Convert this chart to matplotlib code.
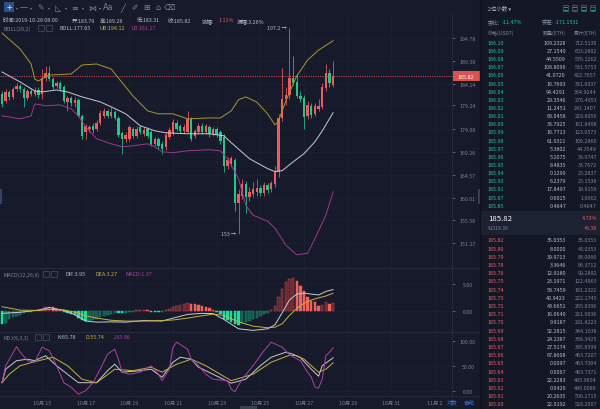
import numpy as np
import pandas as pd
import matplotlib
matplotlib.use("Agg")
import matplotlib.pyplot as plt
import matplotlib.dates as mdates
from matplotlib.patches import Rectangle
from matplotlib.ticker import FixedLocator, FixedFormatter, NullLocator

plt.rcParams['font.family'] = ['Noto Sans CJK SC', 'DejaVu Sans']
plt.rcParams['axes.unicode_minus'] = False

# ---------------- data (ETH/USDT, 4h candles) ----------------
first_candle = "2019-10-13 04:00"
opens = [181.8, 180.3, 182.3, 181.1, 182.9, 183.6, 182.9, 180.9, 182.5, 181.8,
         182.7, 181.8, 185.4, 186.6, 185.2, 183.6, 184.3, 183.4, 180.0, 180.9,
         179.8, 180.5, 177.0, 173.5, 174.2, 174.8, 174.2, 175.4, 177.0, 178.0,
         177.0, 177.8, 176.5, 173.3, 172.0, 172.0, 174.2, 172.7, 174.6, 173.1,
         174.2, 173.5, 171.0, 172.0, 171.0, 170.3, 172.5, 173.3, 175.4, 174.8,
         173.7, 173.5, 176.3, 172.7, 173.5, 174.8, 173.5, 174.6, 173.1, 174.2,
         173.5, 172.5, 166.4, 166.8, 167.5, 158.9, 160.4, 162.8, 160.2, 160.8,
         161.2, 162.0, 161.0, 162.6, 161.8, 162.8, 165.2, 176.5, 180.7, 181.6,
         185.4, 184.5, 181.4, 180.9, 177.0, 179.2, 177.4, 178.5, 178.9, 183.1,
         186.6, 183.79]
highs = [182.5, 182.9, 182.7, 183.4, 184.3, 184.1, 183.4, 182.9, 183.1, 183.4,
         183.4, 187.5, 188.2, 188.2, 185.6, 184.7, 184.7, 183.8, 181.4, 181.4,
         181.1, 180.9, 177.4, 175.2, 175.0, 175.4, 176.1, 178.3, 178.7, 178.5,
         178.9, 178.3, 177.0, 173.7, 173.5, 175.0, 174.6, 174.8, 175.0, 174.6,
         174.6, 173.9, 172.5, 172.5, 171.6, 173.5, 174.6, 176.3, 176.1, 175.2,
         175.2, 178.1, 176.7, 174.2, 175.4, 175.4, 175.2, 175.0, 174.6, 174.6,
         173.9, 173.1, 168.3, 168.5, 167.9, 161.8, 163.8, 163.4, 162.2, 163.2,
         163.8, 162.6, 163.2, 163.0, 163.4, 166.4, 177.4, 187.7, 183.4, 197.2,
         190.5, 186.3, 182.5, 181.6, 180.3, 179.8, 179.8, 180.7, 184.3, 188.6,
         187.5, 189.28]
lows = [178.9, 179.8, 180.5, 180.7, 182.5, 182.2, 178.9, 180.5, 181.4, 181.4,
        180.9, 180.7, 184.7, 184.7, 182.9, 183.1, 182.5, 179.8, 178.1, 179.2,
        178.9, 176.7, 172.0, 172.0, 173.5, 173.3, 173.7, 175.0, 176.5, 176.5,
        176.5, 176.1, 172.5, 168.9, 171.4, 171.6, 172.2, 172.2, 173.1, 172.7,
        172.2, 170.6, 170.6, 169.9, 168.9, 169.7, 172.0, 172.9, 173.7, 173.3,
        173.3, 173.3, 171.6, 172.2, 173.1, 173.1, 173.1, 172.5, 172.7, 172.5,
        171.0, 165.2, 165.8, 166.2, 157.3, 153.0, 159.8, 156.9, 159.4, 160.2,
        160.4, 160.4, 160.4, 161.0, 161.2, 162.2, 164.2, 175.9, 179.4, 180.7,
        183.8, 180.9, 180.0, 174.2, 176.3, 176.5, 177.0, 178.0, 178.5, 182.5,
        183.4, 183.31]
closes = [179.6, 182.3, 181.1, 182.9, 183.6, 182.9, 180.9, 182.5, 181.8, 182.7,
          181.6, 185.4, 186.6, 185.2, 183.4, 184.3, 182.9, 180.3, 180.9, 179.8,
          180.5, 177.0, 172.7, 174.8, 174.6, 173.9, 175.4, 177.6, 178.0, 177.0,
          177.8, 176.5, 172.9, 172.0, 172.9, 174.6, 172.7, 174.2, 173.5, 173.9,
          172.7, 171.0, 172.0, 170.6, 169.9, 172.9, 173.9, 175.7, 174.2, 173.7,
          174.6, 176.3, 172.0, 173.7, 174.8, 173.5, 174.8, 173.1, 174.2, 172.9,
          171.6, 166.4, 167.5, 167.9, 158.9, 160.8, 162.8, 160.2, 161.2, 161.8,
          162.0, 161.0, 162.6, 161.6, 163.0, 165.2, 176.5, 180.7, 181.6, 185.4,
          184.3, 181.4, 180.7, 176.7, 179.4, 177.2, 179.2, 179.2, 183.4, 186.6,
          184.3, 185.82]

# BOLL(20,2), read at some candles
ub_idx = [0, 5, 8, 9, 10, 13, 19, 22, 26, 30, 32, 36, 40, 43, 47, 51, 57, 60,
          63, 65, 67, 70, 73, 75, 76, 78, 81, 84, 87, 91]
ub_val = [195.96, 192.15, 188.64, 185.18, 184.73, 186.1, 186.33, 188.4, 188.64,
          187.48, 185.4, 181.36, 178.05, 177.4, 177.4, 176.31, 176.5, 176.5,
          178.05, 180.5, 181.14, 180.0, 177.4, 175.0, 175.87, 180.25, 185.87,
          189.57, 191.9, 194.12]
mid_idx = [0, 5, 9, 11, 15, 18, 22, 27, 30, 34, 38, 42, 45, 51, 57, 61, 63, 68,
           73, 75, 77, 80, 83, 86, 88, 91]
mid_val = [186.79, 184.5, 182.47, 182.25, 182.7, 182.25, 181.14, 180.03, 178.93,
           177.4, 174.8, 173.73, 173.3, 173.09, 173.09, 172.66, 171.2, 167.86,
           165.81, 165.21, 165.4, 167.2, 168.9, 171.4, 173.7, 177.65]
lb_idx = [0, 5, 8, 9, 12, 16, 19, 21, 23, 26, 30, 33, 36, 40, 42, 44, 47, 51, 57,
          60, 62, 65, 67, 69, 73, 75, 78, 81, 84, 86, 89, 91]
lb_val = [176.96, 176.31, 176.96, 179.59, 179.15, 179.37, 178.49, 176.96, 174.58,
          172.03, 170.97, 170.34, 170.55, 170.97, 170.34, 169.3, 169.1, 169.51,
          169.72, 169.51, 167.86, 163.8, 158.47, 156.55, 155.41, 154.09, 150.9,
          149.1, 149.4, 152.1, 156.55, 161.17]

# MACD(12,26,9)
macd_hist = [-2.5, -2.3, -1.5, -1.2, -1.0, -0.8, -0.4, -0.3, -0.2, -0.1,
             0.1, 0.3, 0.6, 0.7, 0.6, 0.4, 0.2, -0.2, -0.4, -0.6,
             -0.9, -1.3, -1.8, -2.0, -1.9, -1.7, -1.5, -1.2, -1.0, -0.8,
             -0.6, -0.5, -0.5, -0.5, -0.4, -0.3, -0.2, 0.1, 0.2, 0.2,
             0.1, -0.2, -0.3, -0.3, -0.2, 0.2, 0.4, 0.7, 0.9, 1.1,
             1.3, 1.4, 1.3, 1.2, 1.1, 0.9, 0.7, 0.5, 0.2, -0.2,
             -0.6, -1.5, -1.8, -2.1, -2.5, -2.6, -2.4, -2.2, -1.9, -1.6,
             -1.3, -1.0, -0.7, -0.4, 0.2, 0.9, 2.5, 4.1, 5.4, 5.9,
             6.1, 5.5, 4.7, 3.6, 2.5, 1.9, 1.6, 0.95, 1.0, 1.7,
             1.3, 1.37]
macd_idx = [0, 5, 10, 13, 17, 20, 23, 26, 30, 34, 39, 44, 47, 51, 55, 58, 61,
            65, 69, 73, 75, 77, 79, 81, 83, 85, 87, 89, 91]
dif_val = [-0.5, -0.3, 0.1, 0.6, 0.05, -0.75, -1.95, -2.15, -2.1, -2.15, -1.85,
           -1.95, -1.4, -0.7, -0.5, -0.55, -1.65, -3.4, -3.7, -3.4, -2.65, -0.4,
           2.0, 3.1, 3.3, 3.1, 2.95, 3.6, 3.95]
dea_val = [0.75, 0.1, 0.05, 0.25, 0.15, -0.3, -0.95, -1.4, -1.8, -1.95, -1.95,
           -1.85, -1.75, -1.4, -0.95, -0.65, -0.9, -2.1, -2.9, -3.2, -3.1,
           -2.45, -0.9, 0.4, 1.4, 2.0, 2.4, 2.75, 3.27]

# KDJ(9,3,3)
k_idx = [0, 1, 4, 7, 9, 12, 15, 18, 21, 26, 29, 31, 33, 38, 41, 44, 47, 49, 52,
         54, 58, 63, 67, 71, 74, 78, 80, 82, 85, 87, 88, 91]
k_val = [16, 43, 60, 63, 60, 70, 50, 33, 16, 16, 40, 53, 37, 40, 43, 27, 57, 67,
         63, 47, 33, 15, 23, 50, 67, 77, 73, 66, 43, 29, 50, 65.78]
d_idx = [0, 2, 5, 9, 14, 18, 22, 26, 31, 36, 41, 44, 48, 52, 56, 63, 69, 74, 79,
         81, 83, 85, 87, 89, 91]
d_val = [16, 33, 50, 58, 67, 50, 23, 16, 43, 40, 47, 37, 53, 63, 50, 20, 33, 57,
         71, 70, 63, 50, 37, 43, 55.74]
j_idx = [0, 1, 4, 5, 7, 9, 11, 13, 15, 17, 19, 21, 23, 25, 27, 29, 31, 32, 33,
         35, 38, 41, 43, 44, 46, 47, 48, 51, 52, 54, 56, 58, 62, 63, 64, 66, 69,
         72, 74, 77, 79, 82, 84, 85, 86, 87, 88, 89, 90, 91]
j_val = [16, 50, 88, 77, 60, 57, 87, 80, 50, 16, 7, -7, 0, 16, 43, 73, 83, 63, 37,
         33, 37, 50, 33, 20, 43, 87, 97, 83, 63, 50, 33, 23, 20, 3, -2, 23, 50,
         80, 97, 87, 72, 60, 37, 27, 7, 5, 23, 70, 77, 85.86]

price_ticks = [194.78, 189.38, 184.14, 179.24, 174.08, 169.26, 164.57, 160.01,
               155.58, 151.27]
date_ticks = ["2019-10-15", "2019-10-17", "2019-10-19", "2019-10-21", "2019-10-23",
              "2019-10-25", "2019-10-27", "2019-10-29", "2019-10-31", "2019-11-02"]
date_labels = ["10月 15", "10月 17", "10月 19", "10月 21", "10月 23", "10月 25",
               "10月 27", "10月 29", "10月 31", "11月 2"]

# order book
ask_price = ["186.10", "186.09", "186.08", "186.07", "186.06", "186.05", "186.04",
             "186.03", "186.02", "186.01", "186.00", "185.99", "185.98", "185.97",
             "185.96", "185.95", "185.94", "185.93", "185.91", "185.87", "185.85"]
ask_amount = ["109.2328", "27.1540", "44.5509", "108.8096", "41.0720", "16.7693",
              "94.4291", "29.3546", "11.2451", "68.0458", "38.7925", "16.7713",
              "61.9311", "5.3802", "5.2075", "8.4835", "0.1299", "6.2379",
              "17.8497", "0.6015", "0.4647"]
ask_total = ["712.5130", "603.2802", "576.1262", "531.5753", "422.7657", "381.6937",
             "364.9244", "270.4953", "241.1407", "229.8956", "161.8498", "123.0573",
             "106.2860", "44.3549", "38.9747", "33.7672", "25.2837", "25.1538",
             "18.9159", "1.0662", "0.4647"]
bid_price = ["185.82", "185.80", "185.79", "185.78", "185.76", "185.75", "185.74",
             "185.73", "185.72", "185.71", "185.70", "185.69", "185.68", "185.67",
             "185.66", "185.65", "185.64", "185.63", "185.62", "185.61", "185.60"]
bid_amount = ["35.0353", "8.0000", "39.9713", "3.3646", "12.9180", "23.1971",
              "58.7459", "40.9423", "43.6651", "16.0640", "9.9187", "52.2815",
              "24.2387", "27.5174", "67.8608", "0.0097", "0.0067", "22.2283",
              "0.0426", "20.2635", "22.0192"]
bid_total = ["35.0353", "43.0353", "83.0066", "86.3712", "99.2892", "122.4863",
             "181.2322", "222.1745", "265.8396", "281.9036", "291.8223", "344.1038",
             "368.3425", "395.8599", "463.7207", "463.7304", "463.7371", "485.9654",
             "486.0080", "506.2715", "528.2907"]

# ---------------- style ----------------
BG = '#161a2a'
GRID = '#1d2232'
LINE = '#272c3e'
TXT = '#7d8396'
LIGHT = '#b9bdca'
RED = '#ee5c5f'
GREEN = '#1ec98e'
UBC = '#a8972a'
MIDC = '#c9cbd2'
LBC = '#9b3a8e'
YEL = '#c4b43a'
MAG = '#b23fa8'
BLUE = '#3d7ee0'

W, H = 600, 410
fig = plt.figure(figsize=(6, 4.1), dpi=100, facecolor=BG)

def px_axes(x0, y0, x1, y1):
    return fig.add_axes([x0 / W, 1 - y1 / H, (x1 - x0) / W, (y1 - y0) / H])

times = pd.date_range(first_candle, periods=len(opens), freq='4h')
tx = mdates.date2num(times)
xlim = (mdates.date2num(pd.Timestamp("2019-10-13 01:50")),
        mdates.date2num(pd.Timestamp("2019-11-02 18:40")))
dticks = mdates.date2num(pd.to_datetime(date_ticks))

ax = px_axes(0, 14, 452, 269)
ax_m = px_axes(0, 269, 452, 333)
ax_k = px_axes(0, 333, 452, 397)

for a in (ax, ax_m, ax_k):
    a.set_facecolor(BG)
    for s in a.spines.values():
        s.set_visible(False)
    a.set_xlim(*xlim)
    a.xaxis.set_major_locator(FixedLocator(dticks))
    a.grid(True, color=GRID, lw=0.6)
    a.yaxis.tick_right()
    a.tick_params(axis='y', colors=TXT, labelsize=3.8, length=2.5, width=0.5)
    a.tick_params(axis='x', length=0, labelbottom=False)
    a.set_axisbelow(True)

# ---- candles ----
O = np.array(opens); Hh = np.array(highs); L = np.array(lows); C = np.array(closes)
cols = np.where(C >= O, RED, GREEN)
ax.vlines(tx, L, Hh, colors=cols, lw=0.55, zorder=3)
lo = np.minimum(O, C)
ht = np.maximum(np.abs(C - O), 0.12)
ax.bar(tx, ht, bottom=lo, width=0.11, color=cols, linewidth=0, zorder=4)

ax.plot(tx[ub_idx], ub_val, color=UBC, lw=0.7, zorder=5)
ax.plot(tx[mid_idx], mid_val, color=MIDC, lw=0.7, zorder=5)
ax.plot(tx[lb_idx], lb_val, color=LBC, lw=0.7, zorder=5)

ax.set_yscale('log')
ax.set_ylim(146.70, 200.87)
ax.yaxis.set_major_locator(FixedLocator(price_ticks))
ax.yaxis.set_minor_locator(NullLocator())
ax.yaxis.set_major_formatter(FixedFormatter(['%.2f' % v for v in price_ticks]))

last = closes[-1]
ax.axhline(last, color='#c0474b', lw=0.7, ls=(0, (1.2, 1.2)), zorder=2)

i_hi = int(np.argmax(highs)); i_lo = int(np.argmin(lows))
ax.annotate('%.1f →' % highs[i_hi], xy=(tx[i_hi], highs[i_hi]), xytext=(-2, 0),
            textcoords='offset points', ha='right', va='center', fontsize=3.8, color=LIGHT)
ax.annotate('%g →' % lows[i_lo], xy=(tx[i_lo], lows[i_lo]), xytext=(-2, 0),
            textcoords='offset points', ha='right', va='center', fontsize=3.8, color=LIGHT)

# ---- MACD ----
hist = np.array(macd_hist)
prev = np.concatenate([[0.0], hist[:-1]])
fc, ec = [], []
for v, p in zip(hist, prev):
    if v >= 0:
        if v >= p:
            fc.append('#5a2530'); ec.append('#c4484d')
        else:
            fc.append('#f0605d'); ec.append('#f0605d')
    else:
        if v <= p:
            fc.append('#20dba0'); ec.append('#20dba0')
        else:
            fc.append('#17594b'); ec.append('#1f8a6c')
ax_m.bar(tx, hist, width=0.11, color=fc, edgecolor=ec, linewidth=0.35, zorder=3)
ax_m.plot(tx[macd_idx], dif_val, color=MIDC, lw=0.7, zorder=4)
ax_m.plot(tx[macd_idx], dea_val, color=YEL, lw=0.7, zorder=4)
ax_m.set_ylim(-4.0, 8.0)
ax_m.set_yticks([5, 0])
ax_m.set_yticklabels(['5.00', '0.00'])

# ---- KDJ ----
ax_k.plot(tx[k_idx], k_val, color=MIDC, lw=0.7)
ax_k.plot(tx[d_idx], d_val, color=YEL, lw=0.7)
ax_k.plot(tx[j_idx], j_val, color=MAG, lw=0.7)
ax_k.set_ylim(-10.6, 117.4)
ax_k.set_yticks([100, 50, 0])
ax_k.set_yticklabels(['100.00', '50.00', '0.00'])
ax_k.tick_params(axis='x', labelbottom=True, colors=TXT, labelsize=3.8, pad=3)
ax_k.set_xticklabels(date_labels)

for a in (ax, ax_m, ax_k):
    for lab in a.get_yticklabels():
        lab.set_horizontalalignment('center')
    a.tick_params(axis='y', pad=9)

# ---------------- overlay (texts, separators, order book) ----------------
ov = fig.add_axes([0, 0, 1, 1], zorder=20)
ov.set_xlim(0, W); ov.set_ylim(H, 0); ov.axis('off'); ov.patch.set_alpha(0)

for y in (269, 333, 397):
    ov.plot([0, 480], [y, y], color=LINE, lw=0.7)
ov.plot([452, 452], [14, 397], color=LINE, lw=0.7)
ov.add_patch(Rectangle((480, 0), 120, H, fc='#141826', ec='none'))
ov.plot([480, 480], [0, H], color='#0e111c', lw=1.0)
ov.add_patch(Rectangle((0, 190), 1.5, 15, fc='#34426e', ec='none'))
ov.add_patch(Rectangle((478, 190), 2, 15, fc='#3c4257', ec='none'))
ov.add_patch(Rectangle((240, 407), 17, 3, fc='#3a4055', ec='none'))

# last price tag on the price axis
fig.canvas.draw()
y_last = H - ax.transData.transform((tx[-1], last))[1]
ov.add_patch(Rectangle((452.5, y_last - 4.8), 27, 9.6, fc='#d9534f', ec='none'))
ov.text(466, y_last, '%.2f' % last, color='white', fontsize=3.8, ha='center', va='center')

fs = 3.9
# toolbar
ov.add_patch(Rectangle((4, 3), 10, 10, fc='#2b4f86', ec='none'))
ov.text(9, 8, '+', color='#d0d8ea', fontsize=7, ha='center', va='center')
tools = [(17, '▾'), (24, '—'), (31, '▾'), (41, '✎'), (49, '▾'), (58, '◺'), (66, '▾'),
         (75, '≡'), (83, '▾'), (92, '⋈'), (100, '▾'), (108, 'Aa'), (123, '╱'),
         (135, '✐'), (147, '⊞'), (158, '⌂'), (170, '⌫')]
for x, s in tools:
    ov.text(x, 8, s, color=TXT, fontsize=5.8 if s != '▾' else 3, ha='center',
            va='center', family=['DejaVu Sans'])

# header info
info = [(3, '时间:2019-10-28 08:00', LIGHT), (72, '开:183.79', LIGHT),
        (100, '高:189.28', LIGHT), (137, '低:183.31', LIGHT), (168, '收:185.82', LIGHT),
        (202, '涨幅:', LIGHT), (219, '1.11%', RED), (237, '振幅:3.26%', LIGHT)]
for x, s, c in info:
    ov.text(x, 21, s, color=c, fontsize=fs, va='center')

def label_row(y, name, items):
    ov.text(3, y, name, color=TXT, fontsize=fs, va='center')
    for bx in items[0]:
        ov.add_patch(Rectangle((bx, y - 2.8), 5.6, 5.6, fc='none', ec='#4a5068', lw=0.5))
    for x, s, c in items[1]:
        ov.text(x, y, s, color=c, fontsize=fs, va='center')

label_row(29, 'BOLL(20,2)', ([38, 46], [(59, 'BOLL:177.65', LIGHT),
                                      (99, 'UB:194.12', YEL), (132, 'LB:161.17', MAG)]))
label_row(275, 'MACD(12,26,9)', ([43, 51], [(65, 'DIF:3.95', LIGHT),
                                         (95, 'DEA:3.27', YEL), (125, 'MACD:1.37', MAG)]))
label_row(338, 'KDJ(9,3,3)', ([35, 43], [(57, 'K:65.78', LIGHT),
                                      (85, 'D:55.74', YEL), (113, 'J:85.86', MAG)]))

ov.text(447, 403, '对数', color=BLUE, fontsize=fs, va='center')
ov.text(463, 403, '自动', color=BLUE, fontsize=fs, va='center')

# order book
ov.text(488, 9, '2位小数 ▾', color=LIGHT, fontsize=fs, va='center')
for i, x in enumerate([563, 572, 581, 590]):
    ov.add_patch(Rectangle((x, 6), 5, 6, fc='none', ec='#5a6078', lw=0.5))
    ov.plot([x + 1, x + 4], [7.5, 7.5], color=RED if i < 3 else '#5a6078', lw=0.6)
    ov.plot([x + 1, x + 4], [10.5, 10.5], color=GREEN if i != 1 else '#5a6078', lw=0.6)
ov.text(488, 23, '委比:', color=TXT, fontsize=fs, va='center')
ov.text(502, 23, '-11.47%', color=GREEN, fontsize=fs, va='center')
ov.text(542, 23, '委差:', color=TXT, fontsize=fs, va='center')
ov.text(555, 23, '-171.1531', color=GREEN, fontsize=fs, va='center')
ov.text(488, 33, '价格(USDT)', color=TXT, fontsize=3.6, va='center')
ov.text(566, 33, '数量(ETH)', color=TXT, fontsize=3.6, va='center', ha='right')
ov.text(597, 33, '累计(ETH)', color=TXT, fontsize=3.6, va='center', ha='right')

for i, (p, a, t) in enumerate(zip(ask_price, ask_amount, ask_total)):
    y = 43.3 + i * 8.15
    ov.text(488, y, p, color=GREEN, fontsize=fs, va='center')
    ov.text(566, y, a, color=LIGHT, fontsize=fs, va='center', ha='right')
    ov.text(597, y, t, color=TXT, fontsize=fs, va='center', ha='right')

ov.add_patch(Rectangle((481, 212), 119, 24, fc='#1d2233', ec='none'))
ov.text(488, 219, '185.82', color='white', fontsize=5.6, va='center')
ov.text(488, 229, '¥1318.39', color=TXT, fontsize=3.6, va='center')
ov.text(597, 219, '4.73%', color=RED, fontsize=fs, va='center', ha='right')
ov.text(597, 229, '+8.39', color=RED, fontsize=fs, va='center', ha='right')

for i, (p, a, t) in enumerate(zip(bid_price, bid_amount, bid_total)):
    y = 241 + i * 8.2
    ov.text(488, y, p, color=RED, fontsize=fs, va='center')
    ov.text(566, y, a, color=LIGHT, fontsize=fs, va='center', ha='right')
    ov.text(597, y, t, color=TXT, fontsize=fs, va='center', ha='right')

fig.savefig('out.png', dpi=100, facecolor=BG)
